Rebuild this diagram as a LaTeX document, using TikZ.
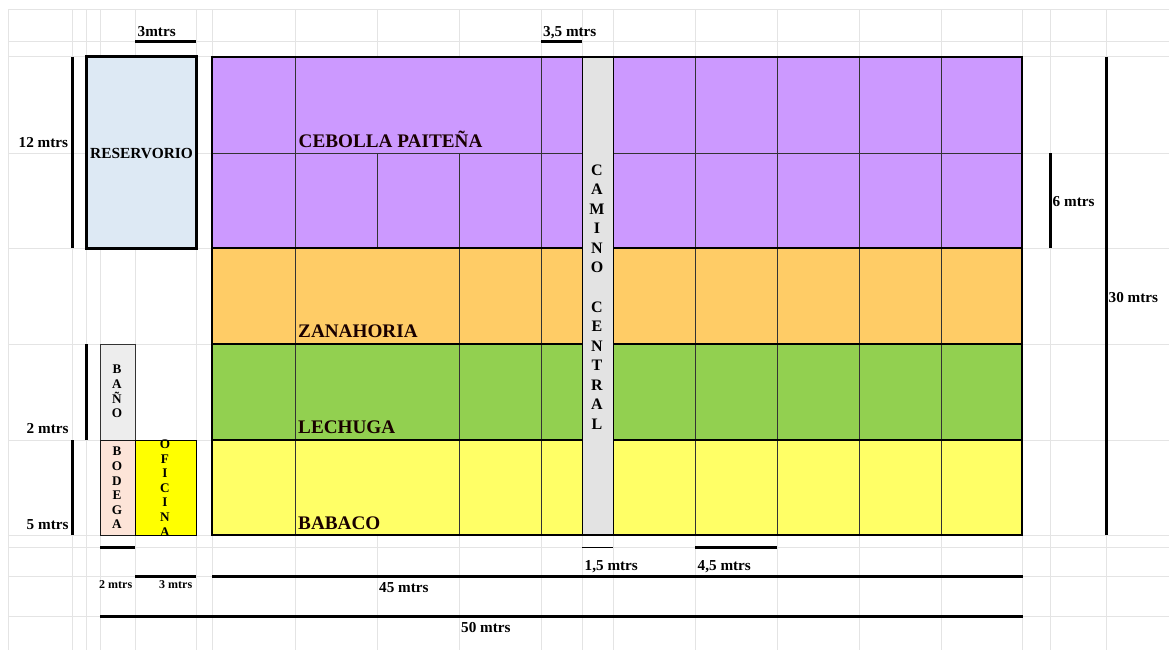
\documentclass[tikz,border=0pt]{standalone}
\usepackage{fontspec}
\setmainfont{Liberation Serif}
\definecolor{gridc}{HTML}{E4E4E4}
\definecolor{purp}{HTML}{CC99FF}
\definecolor{oran}{HTML}{FFCC66}
\definecolor{gree}{HTML}{92D050}
\definecolor{yell}{HTML}{FFFF66}
\definecolor{rese}{HTML}{DDE9F4}
\definecolor{bano}{HTML}{EDEDED}
\definecolor{bode}{HTML}{FDE4D8}
\definecolor{ofic}{HTML}{FFFF00}
\definecolor{cami}{HTML}{E3E3E3}
\tikzset{
  gridline/.style={draw=gridc,line width=1pt},
  cell/.style={draw=black!80,line width=1pt},
  frame/.style={draw=black,line width=2.3pt},
  bar/.style={draw=black,line width=3pt},
  thinbar/.style={draw=black,line width=1pt},
  crop/.style={font=\bfseries\fontsize{19.2}{22}\selectfont,anchor=base west,inner sep=0pt,text=black!90!red},
  dim/.style={font=\bfseries\fontsize{15.2}{18}\selectfont,anchor=base west,inner sep=0pt},
  small/.style={font=\bfseries\fontsize{12}{14}\selectfont,anchor=base west,inner sep=0pt},
  stack/.style={font=\bfseries\fontsize{13.2}{14.6}\selectfont,align=center,inner sep=0pt,anchor=center},
}
\begin{document}
\begin{tikzpicture}[x=1pt,y=-1pt]
\useasboundingbox (0,0) rectangle (1169,650);
\fill[white] (0,0) rectangle (1169,650);
% spreadsheet grid
\foreach \x in {8.5,72,86,100,135,196,212,295,377,459,541,582,613,695,777,859,941,1022,1050,1106}
  \draw[gridline] (\x,10) -- (\x,650);
\foreach \y in {10,42,57,153,248,344,440,535,547,576,616}
  \draw[gridline] (8,\y) -- (1169,\y);
% crop bands
\fill[purp] (212,57) rectangle (1022,248);
\fill[oran] (212,248) rectangle (1022,344);
\fill[gree] (212,344) rectangle (1022,440);
\fill[yell] (212,440) rectangle (1022,535);
% cell dividers
\draw[cell] (212,153) -- (1022,153);
\foreach \x in {295,541,695,777,859,941}
  \draw[cell] (\x,57) -- (\x,535);
\draw[cell] (377,153) -- (377,248);
\draw[cell] (459,153) -- (459,535);
% band frames
\draw[frame] (212,248) -- (1022,248);
\draw[frame] (212,344) -- (1022,344);
\draw[frame] (212,440) -- (1022,440);
% central road
\filldraw[fill=cami,draw=black,line width=1pt] (582,57) rectangle (613,535);
\draw[frame] (212,57) rectangle (1022,535);
% buildings
\filldraw[fill=rese,draw=black,line width=3pt] (86,57) rectangle (196,248);
\filldraw[fill=bano,draw=black!80,line width=1pt] (100,344) rectangle (135,440);
\filldraw[fill=bode,draw=black!90,line width=1pt] (100,440) rectangle (135,535);
\filldraw[fill=ofic,draw=black,line width=1pt] (135,440) rectangle (196,535);
% dimension bars
\coordinate (a1) at (135,42); \coordinate (a2) at (196,42);
\coordinate (b1) at (541,42); \coordinate (b2) at (582,42);
\coordinate (c1) at (72,57); \coordinate (c2) at (72,248);
\coordinate (d1) at (86,344); \coordinate (d2) at (86,440);
\coordinate (e1) at (72,440); \coordinate (e2) at (72,535);
\coordinate (f1) at (100,547.5); \coordinate (f2) at (135,547.5);
\coordinate (g1) at (135,576); \coordinate (g2) at (196,576);
\coordinate (h1) at (212,576); \coordinate (h2) at (1023,576);
\coordinate (i1) at (100,616); \coordinate (i2) at (1023,616);
\coordinate (j1) at (695,547.5); \coordinate (j2) at (777,547.5);
\coordinate (k1) at (582,547.5); \coordinate (k2) at (613,547.5);
\coordinate (l1) at (1050,153); \coordinate (l2) at (1050,248);
\coordinate (m1) at (1106,57); \coordinate (m2) at (1106,535);
\foreach \p/\q in {a1/a2,b1/b2,c1/c2,d1/d2,e1/e2,f1/f2,g1/g2,h1/h2,i1/i2,j1/j2,l1/l2,m1/m2}
  \draw[bar] (\p) -- (\q);
\draw[thinbar] (k1) -- (k2);
% labels
\node[crop] (cebolla) at (298.5,147.5) {CEBOLLA PAITEÑA};
\node[crop] (zana) at (298,337.5) {ZANAHORIA};
\node[crop] (lech) at (298,433) {LECHUGA};
\node[crop] (baba) at (298,529) {BABACO};
\node[font=\bfseries\fontsize{15.4}{18}\selectfont,inner sep=0pt] (res) at (141.5,154) {RESERVORIO};
\node[stack,font=\bfseries\fontsize{16}{19.55}\selectfont] (camino) at (597,297) {C\\A\\M\\I\\N\\O\\[19.55pt]C\\E\\N\\T\\R\\A\\L};
\node[stack] (bano) at (117,391.5) {B\\A\\Ñ\\O};
\node[stack] (bodega) at (117,488) {B\\O\\D\\E\\G\\A};
\node[stack] (oficina) at (165,488) {O\\F\\I\\C\\I\\N\\A};
\node[dim] (t1) at (137.5,36.5) {3mtrs};
\node[dim] (t2) at (543,36.5) {3,5 mtrs};
\node[dim] (t3) at (18.5,147.5) {12 mtrs};
\node[dim] (t4) at (26.5,433.5) {2 mtrs};
\node[dim] (t5) at (26.5,529.5) {5 mtrs};
\node[dim] (t6) at (1052.5,206.5) {6 mtrs};
\node[dim] (t7) at (1108.5,302) {30 mtrs};
\node[dim] (t8) at (584.5,570.5) {1,5 mtrs};
\node[dim] (t9) at (697.5,570.5) {4,5 mtrs};
\node[dim] (t10) at (379,592) {45 mtrs};
\node[dim] (t11) at (461,632) {50 mtrs};
\node[small] (t12) at (99,588.5) {2 mtrs};
\node[small] (t13) at (159,588.5) {3 mtrs};
\end{tikzpicture}
\end{document}
